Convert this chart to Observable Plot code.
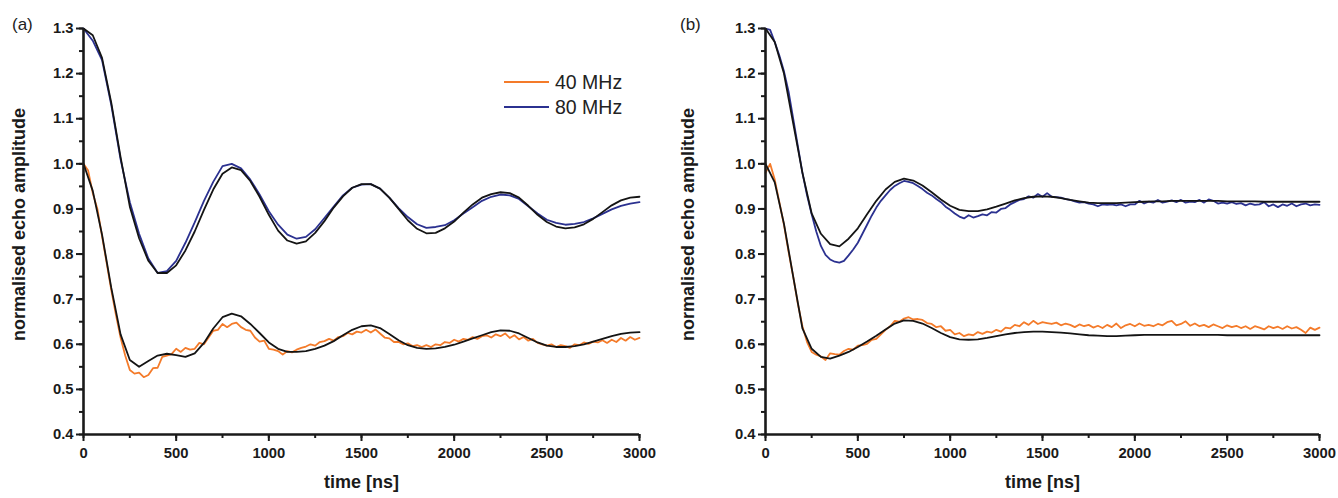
<!DOCTYPE html>
<html>
<head>
<meta charset="utf-8">
<script src="https://cdn.jsdelivr.net/npm/d3@7"></script>
<script src="https://cdn.jsdelivr.net/npm/@observablehq/plot@0.6"></script>
<style>
  html, body { margin: 0; padding: 0; background: #fff; }
  #wrap { position: relative; width: 1338px; height: 498px; overflow: hidden; font-family: "Liberation Sans", Arial, sans-serif; }
  #wrap svg.plot { position: absolute; top: 0; }
  #wrap svg.plot g[aria-label$="tick label"] text { font-size: 14.8px; font-weight: bold; fill: #1a1a1a; }
  .panel-label { position: absolute; font-size: 17px; color: #222; line-height: 1; z-index: 5; }
  #legend { position: absolute; left: 0; top: 0; z-index: 4; }
</style>
</head>
<body>
<div id="wrap"></div>
<script>
// ---------------- data ----------------
const panelLabels = ["(a)", "(b)"];
const seriesNames = ["40 MHz", "80 MHz"];
const xLabel = "time [ns]";
const yLabel = "normalised echo amplitude";
const xMajorTicks = [0, 500, 1000, 1500, 2000, 2500, 3000];
const yMajorTicks = [0.4, 0.5, 0.6, 0.7, 0.8, 0.9, 1.0, 1.1, 1.2, 1.3];

// time grids (ns)
const time25 = d3.range(0, 3001, 25);
const time50 = d3.range(0, 3001, 50);

// panel (a) — 80 MHz measured (50 ns)
const a80 = [
  1.3,1.273,1.23,1.13,1.01,0.915,0.845,0.79,0.758,0.762,
  0.785,0.825,0.87,0.918,0.96,0.995,1.0,0.99,0.965,0.932,
  0.895,0.865,0.843,0.834,0.838,0.855,0.88,0.905,0.93,0.947,
  0.954,0.955,0.945,0.925,0.902,0.882,0.866,0.858,0.86,0.864,
  0.875,0.89,0.904,0.918,0.927,0.932,0.93,0.922,0.906,0.89,
  0.876,0.869,0.865,0.867,0.871,0.879,0.889,0.899,0.907,0.912,
  0.915];
// panel (a) — 80 MHz fit (50 ns)
const a80fit = [
  1.3,1.285,1.235,1.135,1.015,0.905,0.835,0.785,0.758,0.758,
  0.775,0.808,0.85,0.898,0.943,0.978,0.992,0.986,0.962,0.927,
  0.887,0.852,0.83,0.823,0.828,0.847,0.873,0.903,0.928,0.947,
  0.955,0.955,0.945,0.925,0.9,0.875,0.856,0.846,0.847,0.857,
  0.872,0.892,0.91,0.925,0.933,0.937,0.935,0.925,0.907,0.887,
  0.871,0.861,0.857,0.859,0.866,0.878,0.893,0.908,0.919,0.925,
  0.927];
// panel (a) — 40 MHz measured (25 ns)
const a40 = [
  1.0,0.985,0.935,0.9,0.84,0.78,0.72,0.665,0.615,0.575,0.543,0.535,0.537,0.527,0.532,0.547,0.548,0.572,0.575,0.578,
  0.59,0.583,0.592,0.588,0.59,0.603,0.6,0.615,0.63,0.632,0.645,0.638,0.645,0.648,0.638,0.632,0.63,0.615,0.606,0.608,
  0.59,0.588,0.585,0.577,0.585,0.582,0.588,0.592,0.595,0.6,0.597,0.605,0.607,0.612,0.608,0.616,0.618,0.625,0.622,0.628,
  0.626,0.632,0.626,0.633,0.624,0.615,0.613,0.605,0.605,0.6,0.602,0.596,0.598,0.594,0.598,0.594,0.6,0.598,0.605,0.603,
  0.61,0.606,0.612,0.61,0.616,0.612,0.618,0.62,0.615,0.622,0.618,0.624,0.614,0.62,0.611,0.616,0.608,0.612,0.603,0.6,
  0.597,0.6,0.594,0.598,0.596,0.592,0.6,0.598,0.604,0.601,0.606,0.604,0.609,0.603,0.61,0.605,0.614,0.608,0.616,0.61,
  0.614];
// panel (a) — 40 MHz fit (50 ns)
const a40fit = [
  1.0,0.94,0.843,0.725,0.622,0.565,0.55,0.563,0.575,0.579,
  0.576,0.572,0.58,0.603,0.635,0.66,0.668,0.662,0.645,0.625,
  0.604,0.59,0.583,0.583,0.585,0.59,0.597,0.607,0.62,0.632,
  0.64,0.642,0.636,0.623,0.609,0.598,0.592,0.59,0.591,0.594,
  0.599,0.606,0.613,0.62,0.627,0.631,0.63,0.624,0.614,0.604,
  0.597,0.594,0.594,0.596,0.6,0.606,0.612,0.618,0.623,0.626,
  0.627];

// panel (b) — 80 MHz measured (25 ns)
const b80 = [
  1.3,1.297,1.27,1.24,1.205,1.16,1.1,1.04,0.98,0.93,0.888,0.85,0.818,0.798,0.788,0.783,0.781,0.785,0.797,0.81,
  0.825,0.845,0.865,0.885,0.903,0.918,0.93,0.942,0.951,0.957,0.962,0.96,0.957,0.951,0.944,0.936,0.93,0.922,0.915,0.905,
  0.898,0.89,0.883,0.879,0.886,0.881,0.884,0.888,0.886,0.893,0.892,0.9,0.902,0.91,0.915,0.92,0.922,0.928,0.925,0.933,
  0.927,0.935,0.927,0.926,0.925,0.922,0.92,0.917,0.914,0.915,0.912,0.91,0.906,0.91,0.909,0.91,0.908,0.91,0.906,0.91,
  0.91,0.918,0.912,0.916,0.914,0.92,0.914,0.916,0.919,0.915,0.92,0.914,0.916,0.915,0.92,0.914,0.921,0.918,0.912,0.914,
  0.912,0.915,0.911,0.913,0.908,0.912,0.909,0.91,0.915,0.906,0.91,0.904,0.91,0.907,0.912,0.906,0.91,0.912,0.908,0.91,
  0.909];
// panel (b) — 80 MHz fit (50 ns)
const b80fit = [
  1.3,1.27,1.2,1.09,0.98,0.89,0.845,0.822,0.817,0.834,
  0.857,0.888,0.918,0.943,0.96,0.967,0.963,0.952,0.937,0.921,
  0.907,0.898,0.895,0.895,0.899,0.905,0.912,0.919,0.924,0.927,
  0.928,0.927,0.924,0.92,0.917,0.914,0.913,0.913,0.913,0.914,
  0.915,0.916,0.917,0.917,0.918,0.918,0.918,0.918,0.918,0.918,
  0.917,0.917,0.917,0.917,0.916,0.916,0.916,0.916,0.916,0.916,
  0.916];
// panel (b) — 40 MHz measured (25 ns)
const b40 = [
  0.98,1.0,0.965,0.915,0.865,0.805,0.75,0.69,0.64,0.605,0.583,0.577,0.573,0.565,0.58,0.578,0.577,0.585,0.59,0.588,
  0.597,0.598,0.601,0.61,0.612,0.622,0.632,0.64,0.652,0.65,0.657,0.66,0.655,0.656,0.654,0.647,0.645,0.638,0.64,0.63,
  0.632,0.622,0.625,0.618,0.622,0.62,0.627,0.623,0.628,0.626,0.632,0.628,0.637,0.635,0.643,0.64,0.649,0.643,0.652,0.645,
  0.649,0.647,0.645,0.648,0.642,0.646,0.643,0.638,0.644,0.64,0.643,0.637,0.641,0.636,0.643,0.638,0.646,0.636,0.642,0.645,
  0.64,0.646,0.641,0.643,0.64,0.645,0.642,0.649,0.652,0.642,0.645,0.651,0.641,0.646,0.64,0.643,0.638,0.644,0.64,0.636,
  0.642,0.638,0.641,0.636,0.64,0.634,0.64,0.637,0.633,0.64,0.636,0.639,0.634,0.64,0.635,0.638,0.632,0.625,0.637,0.632,
  0.637];
// panel (b) — 40 MHz fit (50 ns)
const b40fit = [
  1.0,0.959,0.867,0.75,0.635,0.59,0.572,0.568,0.575,0.583,
  0.594,0.606,0.619,0.633,0.646,0.653,0.652,0.646,0.636,0.625,
  0.616,0.611,0.61,0.611,0.614,0.618,0.622,0.625,0.627,0.628,
  0.628,0.627,0.626,0.624,0.622,0.62,0.619,0.618,0.618,0.619,
  0.62,0.621,0.621,0.621,0.621,0.621,0.621,0.621,0.621,0.621,
  0.62,0.62,0.62,0.62,0.62,0.62,0.62,0.62,0.62,0.62,
  0.62];

// ---------------- drawing ----------------
const COL40 = "#f47b2a", COL80 = "#2b3190", COLFIT = "#141414";
const FONT = "'Liberation Sans', Arial, Helvetica, sans-serif";

function toRows(times, vals) { return vals.map((v, i) => ({t: times[i], v})); }

function panel({marginLeft, marginRight, m40, m80, f40, f80}) {
  const xMinor = d3.range(0, 3001, 250);
  const yMinor = d3.range(0, 19).map(i => +(0.4 + i * 0.05).toFixed(2));
  const lineOpts = (stroke) => ({x: "t", y: "v", stroke, strokeWidth: 1.8, curve: "linear"});
  return Plot.plot({
    width: 669, height: 498,
    marginLeft, marginRight, marginTop: 28, marginBottom: 64,
    x: {domain: [0, 3000], label: null},
    y: {domain: [0.4, 1.3], label: null},
    style: {fontFamily: FONT, background: "transparent", overflow: "visible", color: "#1a1a1a"},
    marks: [
      Plot.axisX(xMinor, {tickSize: 4, strokeWidth: 2, tickFormat: () => "", label: null}),
      Plot.axisX(xMajorTicks, {tickSize: 7, strokeWidth: 2, tickPadding: 6, tickFormat: d => String(d), label: null}),
      Plot.axisY(yMinor, {tickSize: 4, strokeWidth: 2, tickFormat: () => "", label: null}),
      Plot.axisY(yMajorTicks, {tickSize: 7, strokeWidth: 2, tickPadding: 3, tickFormat: d => d.toFixed(1), label: null}),
      Plot.line(toRows(time25.length === m40.length ? time25 : time50, m40), lineOpts(COL40)),
      Plot.line(toRows(time25.length === m80.length ? time25 : time50, m80), lineOpts(COL80)),
      Plot.line(toRows(time50, f40), lineOpts(COLFIT)),
      Plot.line(toRows(time50, f80), lineOpts(COLFIT)),
      Plot.ruleX([0], {strokeWidth: 2.6, stroke: "#1a1a1a"}),
      Plot.ruleY([0.4], {strokeWidth: 2.6, stroke: "#1a1a1a"}),
      Plot.text([yLabel], {text: d => d, frameAnchor: "left", textAnchor: "middle", lineAnchor: "middle",
        rotate: -90, dx: -marginLeft + 19, dy: -7,
        fontSize: 18, fontWeight: "bold", fill: "#1a1a1a", style: "letter-spacing:1.4px"}),
      Plot.text([xLabel], {text: d => d, frameAnchor: "bottom", textAnchor: "middle", dy: 53,
        fontSize: 18, fontWeight: "bold", fill: "#1a1a1a"})
    ]
  });
}

const wrap = document.getElementById("wrap");
const left = panel({marginLeft: 83, marginRight: 30, m40: a40, m80: a80, f40: a40fit, f80: a80fit});
left.style.left = "0px";
left.classList.add("plot");
wrap.appendChild(left);

const right = panel({marginLeft: 96, marginRight: 19, m40: b40, m80: b80, f40: b40fit, f80: b80fit});
right.style.left = "669px";
right.classList.add("plot");
wrap.appendChild(right);

// panel labels
[[panelLabels[0], 12], [panelLabels[1], 680]].forEach(([txt, x]) => {
  const d = document.createElement("div");
  d.className = "panel-label";
  d.textContent = txt;
  d.style.left = x + "px";
  d.style.top = "16px";
  wrap.appendChild(d);
});

// legend (in panel a)
const ns = "http://www.w3.org/2000/svg";
const leg = document.createElementNS(ns, "svg");
leg.setAttribute("id", "legend");
leg.setAttribute("width", 1338);
leg.setAttribute("height", 498);
leg.style.pointerEvents = "none";
[[seriesNames[0], COL40, 82], [seriesNames[1], COL80, 107]].forEach(([name, col, y]) => {
  const l = document.createElementNS(ns, "line");
  l.setAttribute("x1", 504); l.setAttribute("x2", 549);
  l.setAttribute("y1", y); l.setAttribute("y2", y);
  l.setAttribute("stroke", col); l.setAttribute("stroke-width", 2);
  leg.appendChild(l);
  const t = document.createElementNS(ns, "text");
  t.setAttribute("x", 555); t.setAttribute("y", y);
  t.setAttribute("dy", "0.36em");
  t.setAttribute("font-family", FONT);
  t.setAttribute("font-size", 19.5);
  t.setAttribute("fill", "#222");
  t.textContent = name;
  leg.appendChild(t);
});
wrap.appendChild(leg);
</script>
</body>
</html>
